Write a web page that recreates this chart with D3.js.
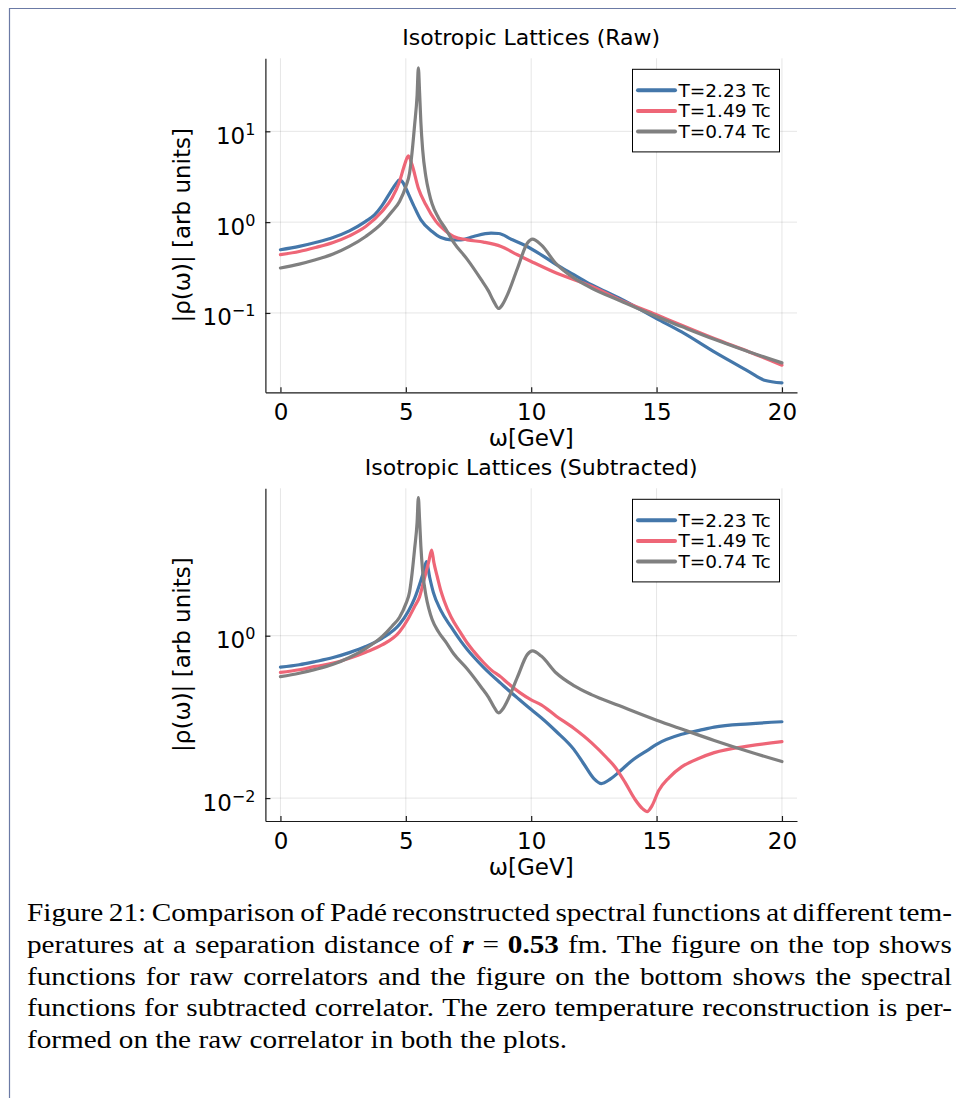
<!DOCTYPE html>
<html>
<head>
<meta charset="utf-8">
<script src="https://cdn.jsdelivr.net/npm/d3@7/dist/d3.min.js"></script>
<style>
  html, body { margin: 0; padding: 0; background: #fff; }
  svg { display: block; }
</style>
</head>
<body>
<svg id="figure" width="956" height="1098"></svg>
<script>
// ---------- data ----------
const omegaTicks = [0, 5, 10, 15, 20];
const rawDecades = [-1, 0, 1];
const subDecades = [-2, 0];
const seriesNames = ["T=2.23 Tc", "T=1.49 Tc", "T=0.74 Tc"];
const seriesColors = ["#4477AA", "#EE6677", "#808080"];
const panelTitles = ["Isotropic Lattices (Raw)", "Isotropic Lattices (Subtracted)"];
const xLabel = "ω[GeV]";
const yLabel = "|ρ(ω)| [arb units]";

// T = 0.74 Tc, reconstructed from the raw correlator (same curve in both panels)
const omegaCold = [0, 0.75, 1.4, 2.1, 2.75, 3.4, 4.05, 4.45, 4.75, 5.0, 5.15, 5.25, 5.35, 5.45, 5.5,
  5.55, 5.6, 5.67, 5.8, 5.92, 6.05, 6.3, 6.6, 6.9, 7.45, 8.0, 8.3, 8.5, 8.7, 8.85, 9.05, 9.45, 9.85,
  10.05, 10.4, 11.0, 11.7, 12.4, 13.5, 15.0, 16.0, 17.3, 18.7, 20.0];
const rhoCold = [0.313, 0.345, 0.385, 0.445, 0.540, 0.695, 0.975, 1.31, 1.69, 2.47, 3.47, 5.89, 11.7, 25.1, 50.1,
  26.3, 12.6, 6.31, 3.16, 2.14, 1.58, 1.12, 0.832, 0.603, 0.389, 0.234, 0.174, 0.135, 0.112, 0.123, 0.158, 0.309, 0.589,
  0.650, 0.562, 0.347, 0.243, 0.188, 0.138, 0.0912, 0.0708, 0.0513, 0.0372, 0.0282];

// T = 2.23 Tc, raw correlator
const omegaRawHot = [0, 0.75, 1.4, 2.1, 2.75, 3.4, 3.75, 4.05, 4.4, 4.6, 4.75, 4.9, 5.0, 5.3, 5.6, 6.05,
  6.4, 6.8, 7.2, 7.7, 8.4, 8.7, 9.2, 9.7, 10.4, 11.0, 11.7, 12.4, 13.0, 13.5, 15.0, 16.0, 17.3, 18.7, 19.3, 20.0];
const rhoRawHot = [0.497, 0.541, 0.597, 0.678, 0.802, 1.02, 1.20, 1.52, 2.17, 2.63, 2.92, 2.69, 2.36, 1.55, 1.06, 0.789,
  0.676, 0.638, 0.638, 0.695, 0.755, 0.750, 0.649, 0.564, 0.437, 0.340, 0.264, 0.205, 0.170, 0.146, 0.0867, 0.0618, 0.0372, 0.0225, 0.0182, 0.0170];

// T = 1.49 Tc, raw correlator
const omegaRawMid = [0, 0.75, 1.4, 2.1, 2.75, 3.4, 4.05, 4.45, 4.75, 4.95, 5.1, 5.25, 5.5, 5.8, 6.2,
  6.6, 6.9, 7.45, 8.1, 8.8, 9.45, 10.0, 11.0, 12.4, 13.5, 15.0, 16.0, 17.3, 18.7, 20.0];
const rhoRawMid = [0.438, 0.475, 0.526, 0.597, 0.706, 0.895, 1.31, 1.84, 2.80, 4.27, 5.36, 4.27, 2.36, 1.55, 1.02,
  0.794, 0.695, 0.638, 0.603, 0.540, 0.437, 0.369, 0.275, 0.197, 0.141, 0.0955, 0.0731, 0.0522, 0.0372, 0.0266];

// T = 2.23 Tc, subtracted correlator
const omegaSubHot = [0, 0.75, 1.4, 2.1, 2.75, 3.4, 4.05, 4.75, 5.1, 5.35, 5.6, 5.72, 5.82, 5.95, 6.1,
  6.4, 6.8, 7.2, 7.45, 7.7, 8.1, 8.4, 8.8, 9.05, 9.5, 10.0, 10.4, 11.0, 11.7, 12.1, 12.5, 12.8, 13.15,
  13.5, 14.0, 14.7, 15.0, 16.0, 16.7, 17.3, 18.7, 20.0];
const rhoSubHot = [0.410, 0.439, 0.481, 0.538, 0.619, 0.735, 0.929, 1.38, 2.00, 2.88, 4.79, 6.31, 8.20, 5.25, 3.39,
  2.04, 1.29, 0.851, 0.676, 0.550, 0.407, 0.331, 0.257, 0.219, 0.166, 0.123, 0.0977, 0.0661, 0.0398, 0.0263, 0.0174, 0.0151, 0.0171,
  0.0209, 0.0287, 0.0399, 0.0459, 0.0610, 0.0682, 0.0748, 0.0822, 0.0871];

// T = 1.49 Tc, subtracted correlator
const omegaSubMid = [0, 0.75, 1.4, 2.1, 2.75, 3.4, 4.05, 4.75, 5.1, 5.35, 5.55, 5.72, 5.92, 6.03, 6.12,
  6.26, 6.4, 6.52, 6.8, 7.2, 7.45, 7.7, 8.1, 8.4, 8.8, 9.05, 10.0, 10.4, 11.0, 11.7, 12.4, 13.0, 13.35,
  13.55, 13.75, 14.15, 14.45, 14.62, 14.82, 15.08, 15.5, 16.0, 16.7, 17.3, 18.7, 20.0];
const rhoSubMid = [0.353, 0.381, 0.419, 0.459, 0.528, 0.627, 0.769, 1.12, 1.63, 2.29, 3.02, 4.79, 8.32, 11.35, 7.94,
  5.25, 3.55, 2.74, 1.71, 1.07, 0.813, 0.646, 0.468, 0.380, 0.309, 0.263, 0.162, 0.141, 0.102, 0.0724, 0.0482, 0.0316, 0.0240,
  0.0195, 0.0155, 0.00955, 0.00736, 0.00682, 0.00807, 0.0123, 0.0179, 0.0242, 0.0310, 0.0363, 0.0439, 0.0495];

const captionLines = [
  "Figure 21: Comparison of Padé reconstructed spectral functions at different tem-",
  "peratures at a separation distance of {bi:r} = {b:0.53} fm. The figure on the top shows",
  "functions for raw correlators and the figure on the bottom shows the spectral",
  "functions for subtracted correlator. The zero temperature reconstruction is per-",
  "formed on the raw correlator in both the plots."
];

// ---------- drawing ----------
const W = 956, H = 1098;
const svg = d3.select("#figure");
svg.append("rect").attr("width", W).attr("height", H).attr("fill", "#fff");

// page frame
svg.append("path")
  .attr("d", `M9.5,${H} V8.5 H${W}`)
  .attr("fill", "none").attr("stroke", "#6b7aa5").attr("stroke-width", 1.2);

const sans = "'DejaVu Sans', 'Noto Sans', sans-serif";
const plotLeft = 265.4, plotRight = 797;

const panels = [
  { title: panelTitles[0], top: 58.3, bottom: 392.3, decades: rawDecades,
    curves: [[omegaRawHot, rhoRawHot], [omegaRawMid, rhoRawMid], [omegaCold, rhoCold]] },
  { title: panelTitles[1], top: 488.3, bottom: 821, decades: subDecades,
    curves: [[omegaSubHot, rhoSubHot], [omegaSubMid, rhoSubMid], [omegaCold, rhoCold]] }
];

const expText = e => (e < 0 ? "\u2212" + (-e) : String(e));

panels.forEach((p, pi) => {
  const series = p.curves.map(([w, r]) => w.map((v, i) => [v, r[i]]));
  const allW = series.flat().map(d => d[0]);
  const allR = series.flat().map(d => d[1]);

  // axis limits widened by 3% (log space for ρ)
  const [w0, w1] = d3.extent(allW);
  const wPad = 0.03 * (w1 - w0);
  const x = d3.scaleLinear().domain([w0 - wPad, w1 + wPad]).range([plotLeft, plotRight]);
  const [l0, l1] = d3.extent(allR).map(Math.log10);
  const lPad = 0.03 * (l1 - l0);
  const y = d3.scaleLog().domain([10 ** (l0 - lPad), 10 ** (l1 + lPad)]).range([p.bottom, p.top]);

  const g = svg.append("g");

  // grid
  g.selectAll(".vgrid").data(omegaTicks).join("line")
    .attr("x1", d => x(d)).attr("x2", d => x(d))
    .attr("y1", p.top).attr("y2", p.bottom)
    .attr("stroke", "#000").attr("stroke-opacity", 0.1).attr("stroke-width", 1);
  g.selectAll(".hgrid").data(p.decades.map(e => 10 ** e)).join("line")
    .attr("x1", plotLeft).attr("x2", plotRight)
    .attr("y1", d => y(d)).attr("y2", d => y(d))
    .attr("stroke", "#000").attr("stroke-opacity", 0.1).attr("stroke-width", 1);

  // curves
  const clipId = "clip" + pi;
  svg.append("clipPath").attr("id", clipId).append("rect")
    .attr("x", plotLeft).attr("y", p.top)
    .attr("width", plotRight - plotLeft).attr("height", p.bottom - p.top);
  const line = d3.line().x(d => x(d[0])).y(d => y(d[1])).curve(d3.curveMonotoneX);
  g.append("g").attr("clip-path", `url(#${clipId})`)
    .selectAll("path").data(series).join("path")
    .attr("d", line)
    .attr("fill", "none")
    .attr("stroke", (d, i) => seriesColors[i])
    .attr("stroke-width", 3.2)
    .attr("stroke-linejoin", "round")
    .attr("stroke-linecap", "round");

  // x axis
  const gx = g.append("g").attr("transform", `translate(0,${p.bottom})`)
    .call(d3.axisBottom(x).tickValues(omegaTicks).tickSizeInner(-5).tickSizeOuter(0).tickFormat(d3.format("d")));
  gx.attr("font-family", sans).attr("font-size", 23).attr("color", "#1a1a1a");
  gx.select(".domain").attr("stroke-width", 1.2);
  gx.selectAll(".tick line").attr("stroke-width", 1.2);
  gx.selectAll(".tick text").attr("y", 27.7).attr("dy", null).attr("fill", "#000");

  // y axis with 10^n labels
  const gy = g.append("g").attr("transform", `translate(${plotLeft},0)`)
    .call(d3.axisLeft(y).tickValues(p.decades.map(e => 10 ** e))
      .tickSizeInner(-5).tickSizeOuter(0).tickPadding(10).tickFormat(() => ""));
  gy.attr("font-family", sans).attr("font-size", 23).attr("color", "#1a1a1a");
  gy.select(".domain").attr("stroke-width", 1.2);
  gy.selectAll(".tick line").attr("stroke-width", 1.2);
  gy.selectAll(".tick text").each(function (d) {
    const t = d3.select(this).attr("dy", null).attr("y", 12).attr("fill", "#000");
    t.append("tspan").text("10");
    t.append("tspan").attr("dy", -9).attr("font-size", 16).text(expText(Math.round(Math.log10(d))));
  });

  // title and axis labels
  g.append("text")
    .attr("x", (plotLeft + plotRight) / 2).attr("y", p.top - 13.3)
    .attr("text-anchor", "middle").attr("font-family", sans).attr("font-size", 22)
    .text(p.title);
  g.append("text")
    .attr("x", (plotLeft + plotRight) / 2).attr("y", p.bottom + 54)
    .attr("text-anchor", "middle").attr("font-family", sans).attr("font-size", 23)
    .text(xLabel);
  g.append("text")
    .attr("transform", `translate(190,${(p.top + p.bottom) / 2}) rotate(-90)`)
    .attr("text-anchor", "middle").attr("font-family", sans).attr("font-size", 23)
    .text(yLabel);

  // legend
  const lg = g.append("g").attr("transform", `translate(632.5,${p.top + 11})`);
  lg.append("rect").attr("width", 147).attr("height", 82.6)
    .attr("fill", "#fff").attr("stroke", "#000").attr("stroke-width", 1);
  seriesNames.forEach((name, i) => {
    const yy = 21 + i * 20.6;
    lg.append("line").attr("x1", 5.5).attr("x2", 42.5).attr("y1", yy).attr("y2", yy)
      .attr("stroke", seriesColors[i]).attr("stroke-width", 4).attr("stroke-linecap", "round");
    lg.append("text").attr("x", 46).attr("y", yy + 6.6)
      .attr("font-family", sans).attr("font-size", 18.5).text(name);
  });
});

// ---------- caption (justified) ----------
const capFont = "'Liberation Serif', 'Times New Roman', serif";
const capSize = 26, capScale = 1.125, capLeft = 27, capRight = 952, capBase = 921, capLead = 31.75;
const meas = svg.append("text").attr("font-family", capFont).attr("font-size", capSize).attr("visibility", "hidden");
const measure = w => {
  meas.text(w.text).attr("font-weight", w.bold ? "bold" : "normal").attr("font-style", w.italic ? "italic" : "normal");
  return meas.node().getComputedTextLength();
};
const spaceW = (() => {
  meas.attr("font-weight", "normal").attr("font-style", "normal").text("a a");
  const a = meas.node().getComputedTextLength();
  meas.text("aa");
  return a - meas.node().getComputedTextLength();
})();

const cap = svg.append("g").attr("font-family", capFont).attr("font-size", capSize).attr("fill", "#000");
captionLines.forEach((ln, li) => {
  const words = ln.split(" ").map(tok => {
    const m = tok.match(/^\{(bi|b):(.+)\}$/);
    return m ? { text: m[2], bold: true, italic: m[1] === "bi" } : { text: tok };
  });
  const widths = words.map(w => measure(w) * capScale);
  const total = d3.sum(widths);
  const justify = li < captionLines.length - 1;
  const gap = justify ? (capRight - capLeft - total) / (words.length - 1) : spaceW * capScale;
  let xx = capLeft;
  const yy = capBase + li * capLead;
  words.forEach((w, wi) => {
    cap.append("text")
      .attr("transform", `translate(${xx},${yy}) scale(${capScale},1)`)
      .attr("font-weight", w.bold ? "bold" : null)
      .attr("font-style", w.italic ? "italic" : null)
      .text(w.text);
    xx += widths[wi] + gap;
  });
});
meas.remove();
</script>
</body>
</html>
